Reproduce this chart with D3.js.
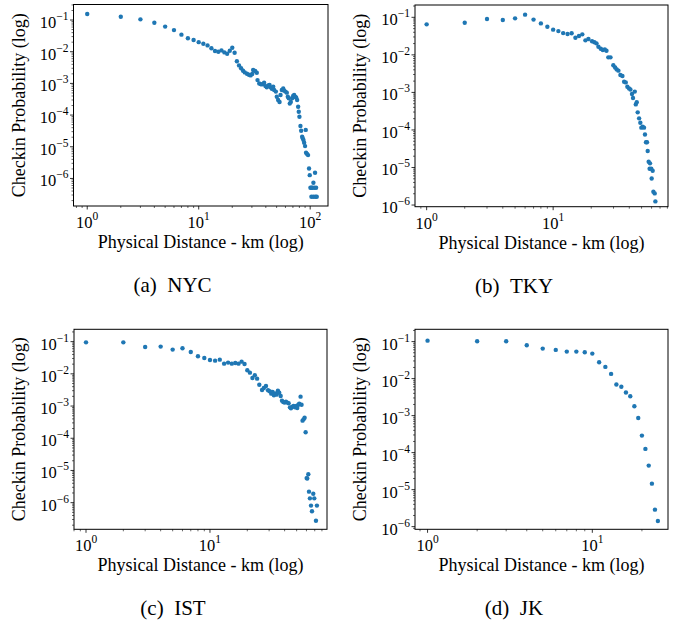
<!DOCTYPE html>
<html>
<head>
<meta charset="utf-8">
<script src="https://cdn.jsdelivr.net/npm/d3@7"></script>
<style>
  body { margin: 0; background: #fff; }
  svg text { font-family: "Liberation Serif", "Times New Roman", serif; fill: #000; }
</style>
</head>
<body>
<script>
// ---- data (distance in km, checkin probability) ----
var nycDist = [1,2,3,4,5,6,7,8,9,10,11,12,13,14,15,16,17,18,19,20,21,22,23,24,25,
  25.9,27.1,28.2,29.2,30.2,30.8,32.1,33.2,33.7,34.9,35.8,36.8,37.8,38.6,39.7,40.8,42.0,43.2,44.1,45.3,
  46.6,47.5,49.2,50.2,51.6,53.1,54.2,55.7,57.3,58.5,60.0,61.7,63.0,64.3,65.6,67.0,68.9,70.3,71.8,73.3,
  74.8,76.4,78.0,79.0,80.1,81.8,83.0,84.7,85.9,87.1,88.3,90.0,91.2,91.8,93.8,95.7,97.7,99.1,100.5,102.6,
  104.7,106.9,109.1,110.6,113.0,102.6,106.9,111.4,114.5];
var nycProb = [0.155,0.127,0.105,0.082,0.062,0.048,0.0345,0.0265,0.0233,0.020,0.0178,0.0158,0.0128,0.0105,0.010,
  0.011,0.0095,0.0086,0.0107,0.0134,0.0093,0.0050,0.0037,0.0030,0.0025,
  2.22e-3,2.02e-3,1.88e-3,1.79e-3,1.97e-3,2.64e-3,2.45e-3,2.17e-3,1.27e-3,1.0e-3,9.5e-4,9.3e-4,9.5e-4,1.05e-3,8.2e-4,7.5e-4,8.65e-4,8.9e-4,7.5e-4,6.8e-4,
  7.85e-4,6.2e-4,5.5e-4,3.8e-4,3.0e-4,2.6e-4,4.3e-4,6.2e-4,6.95e-4,5.9e-4,5.5e-4,5.1e-4,3.8e-4,3.4e-4,2.3e-4,2.6e-4,3.4e-4,4.0e-4,4.3e-4,3.8e-4,
  3.6e-4,3.0e-4,1.83e-4,1.27e-4,8.9e-5,4.5e-5,3.2e-5,2.07e-5,1.83e-5,1.62e-5,1.34e-5,1.05e-5,3.4e-5,6.45e-6,5.9e-6,5.45e-6,2.07e-6,1.27e-6,5.1e-7,5.1e-7,
  5.1e-7,7.3e-7,5.1e-7,1.51e-6,5.1e-7,2.63e-7,2.63e-7,2.63e-7,2.63e-7];

var tkyDist = [1,2,3,4,5,6,7,8,9,10,11,12,13,14,15,16,17,18,19,
  20.3,21.2,22.0,22.8,23.8,24.7,25.6,26.4,27.3,28.4,29.9,30.9,31.8,32.8,34.0,35.3,36.4,37.5,38.6,39.8,
  40.8,42.0,42.8,44.2,45.0,45.8,46.6,47.8,48.9,49.8,51.0,52.3,53.2,54.2,55.2,55.9,56.9,58.3,57.9,59.7,
  61.2,60.1,62.0,63.5,64.3];
var tkyProb = [0.065,0.072,0.090,0.085,0.094,0.118,0.087,0.069,0.056,0.047,0.043,0.038,0.036,0.0375,0.0287,0.0318,0.0352,0.0244,0.0265,
  0.023,0.0216,0.0203,0.0165,0.0146,0.0135,0.014,0.0129,0.0086,0.0086,0.0053,0.0046,0.0041,0.0038,0.0029,0.00273,0.00193,0.00185,0.00142,0.00128,
  0.0012,0.00091,0.00071,0.00105,0.00048,0.00055,0.000294,0.000204,0.000156,0.000115,0.000122,0.000115,7.6e-5,4.7e-5,4.7e-5,2.75e-5,1.43e-5,1.29e-5,9.3e-6,9.3e-6,
  8.2e-6,5.1e-6,2.26e-6,2.04e-6,1.25e-6];

var istDist = [1,2,3,4,5,6,7,8,9,10,11,12,13,14,15,16,17,18,19,20,21,22,23,24,25,
  26.3,27.2,28.3,29.4,30.3,31.2,32.0,32.8,33.6,34.5,35.3,36.2,37.2,38.1,39.0,40.0,41.0,42.1,43.1,44.2,
  45.0,46.1,47.3,48.5,49.7,50.6,51.6,52.5,53.8,54.8,55.8,56.9,58.0,59.1,60.2,60.9,62.1,62.9,64.0,65.3,
  66.5,68.1,69.4,71.6,72.9];
var istProb = [0.095,0.095,0.068,0.070,0.0565,0.062,0.0478,0.035,0.031,0.027,0.0257,0.0276,0.0207,0.0223,0.0207,
  0.0217,0.0207,0.0239,0.0202,0.0129,0.0109,0.00745,0.009,0.0071,0.0046,
  0.00316,0.00364,0.0042,0.00308,0.00287,0.00243,0.00274,0.00216,0.00248,0.00226,0.003,0.0026,0.00206,0.00147,0.00134,0.00128,0.00137,0.00128,0.00122,0.00091,
  0.00085,0.00096,0.001,0.00091,0.001,0.00087,0.0011,0.00119,0.00196,0.0011,0.000352,0.000387,0.000436,0.000153,5.8e-6,5.6e-6,7.6e-6,2.2e-6,1.36e-6,8.1e-7,
  5.4e-7,1.9e-6,1.36e-6,2.76e-7,8.1e-7];

var jkDist = [1,2,3,4,5,6,7,8,9,10,11,12,13,14,15,16,17,18,19,20,21,22,23,24,25];
var jkProb = [0.106,0.102,0.102,0.0796,0.0647,0.0596,0.0537,0.0537,0.0515,0.0474,0.0276,0.0207,0.0134,0.0069,0.006,
  0.0042,0.00333,0.00179,0.000865,0.000288,0.000126,4.46e-5,1.45e-5,2.88e-6,1.42e-6];

var xLabel = "Physical Distance - km (log)";
var yLabel = "Checkin Probability (log)";

// ---- layout for each subplot ----
var panels = [
  {dist: nycDist, prob: nycProb, tag: "(a)", name: "NYC",
   left: 73.5, right: 328, top: 4.5, bottom: 206, xlim: [0.753, 144.5], ylim: [1.35e-7, 0.309]},
  {dist: tkyDist, prob: tkyProb, tag: "(b)", name: "TKY",
   left: 415, right: 668, top: 5, bottom: 206.7, xlim: [0.809, 80.9], ylim: [9.03e-7, 0.213]},
  {dist: istDist, prob: istProb, tag: "(c)", name: "IST",
   left: 74, right: 327, top: 329.3, bottom: 529.3, xlim: [0.80, 87.9], ylim: [1.49e-7, 0.2415]},
  {dist: jkDist, prob: jkProb, tag: "(d)", name: "JK",
   left: 415, right: 668, top: 329.3, bottom: 529.3, xlim: [0.839, 28.8], ylim: [8.47e-7, 0.215]}
];

var svg = d3.select("body").append("svg")
    .attr("width", 685)
    .attr("height", 624);

panels.forEach(drawPanel);

function expLabel(sel, e) {            // "10" with superscript exponent
  sel.append("tspan").text("10");
  sel.append("tspan")
      .attr("font-size", 11.5)
      .attr("dy", -8)
      .text(e < 0 ? "\u2212" + (-e) : String(e));
}

function drawPanel(p) {
  var x = d3.scaleLog().domain(p.xlim).range([p.left, p.right]);
  var y = d3.scaleLog().domain(p.ylim).range([p.bottom, p.top]);
  var g = svg.append("g");

  // x ticks
  var k0 = Math.floor(Math.log10(p.xlim[0])), k1 = Math.ceil(Math.log10(p.xlim[1]));
  for (var k = k0; k <= k1; k++) {
    for (var m = 1; m <= 9; m++) {
      var v = m * Math.pow(10, k);
      if (v < p.xlim[0] || v > p.xlim[1]) continue;
      var len = m == 1 ? 3.5 : 2;
      g.append("line")
          .attr("x1", x(v)).attr("x2", x(v))
          .attr("y1", p.bottom).attr("y2", p.bottom + len)
          .attr("stroke", "#000").attr("stroke-width", m == 1 ? 0.8 : 0.6);
      if (m == 1) {
        var t = g.append("text")
            .attr("x", x(v)).attr("y", p.bottom + 22)
            .attr("text-anchor", "middle")
            .attr("font-size", 16.5);
        expLabel(t, k);
      }
    }
  }

  // y ticks
  k0 = Math.floor(Math.log10(p.ylim[0]));
  k1 = Math.ceil(Math.log10(p.ylim[1]));
  for (var k = k0; k <= k1; k++) {
    for (var m = 1; m <= 9; m++) {
      var v = m * Math.pow(10, k);
      if (v < p.ylim[0] || v > p.ylim[1]) continue;
      var len = m == 1 ? 3.5 : 2;
      g.append("line")
          .attr("x1", p.left - len).attr("x2", p.left)
          .attr("y1", y(v)).attr("y2", y(v))
          .attr("stroke", "#000").attr("stroke-width", m == 1 ? 0.8 : 0.6);
      if (m == 1) {
        var t = g.append("text")
            .attr("x", p.left - 5).attr("y", y(v) + 8)
            .attr("text-anchor", "end")
            .attr("font-size", 16.5);
        expLabel(t, k);
      }
    }
  }

  // points
  g.selectAll("circle")
      .data(p.dist.map((d, i) => [d, p.prob[i]]))
      .enter()
      .append("circle")
      .attr("cx", d => x(d[0]))
      .attr("cy", d => y(d[1]))
      .attr("r", 2.2)
      .attr("fill", "#1f77b4");

  // frame
  g.append("rect")
      .attr("x", p.left).attr("y", p.top)
      .attr("width", p.right - p.left).attr("height", p.bottom - p.top)
      .attr("fill", "none").attr("stroke", "#000").attr("stroke-width", 1);

  // axis labels
  g.append("text")
      .attr("x", (p.left + p.right) / 2).attr("y", p.bottom + 42)
      .attr("text-anchor", "middle")
      .attr("font-size", 18)
      .text(xLabel);
  g.append("text")
      .attr("transform", "translate(" + (p.left - 49) + "," + (p.top + p.bottom) / 2 + ") rotate(-90)")
      .attr("text-anchor", "middle")
      .attr("font-size", 18)
      .text(yLabel);

  // sub caption
  g.append("text")
      .attr("x", p.left + 99).attr("y", p.bottom + 86)
      .attr("text-anchor", "middle")
      .attr("font-size", 21)
      .text(p.tag + "\u00a0\u00a0" + p.name);
}
</script>
</body>
</html>
